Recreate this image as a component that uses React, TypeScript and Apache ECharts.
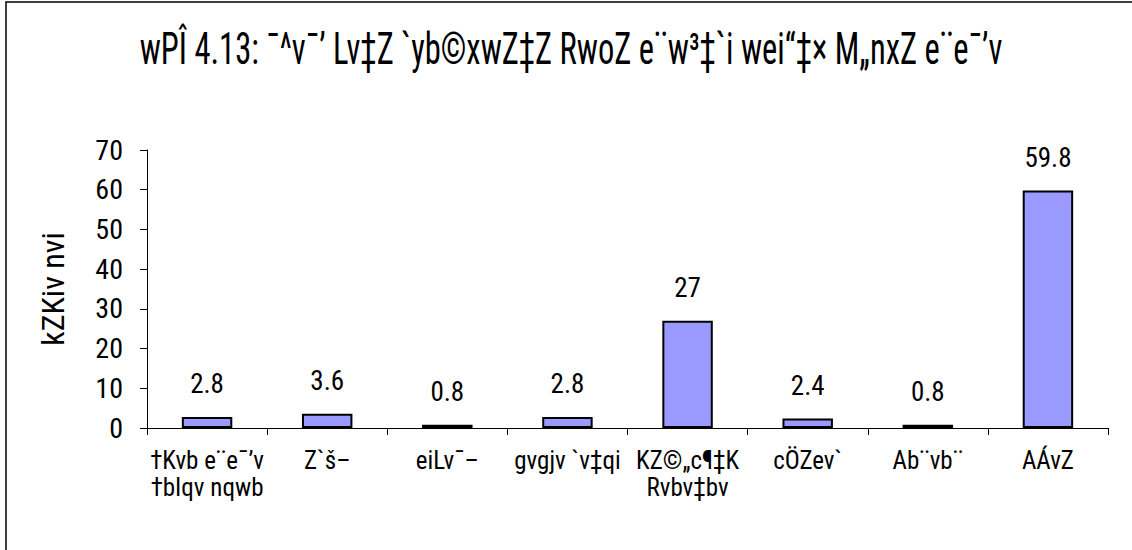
import React, { useEffect, useRef } from "react";
import * as echarts from "echarts";

const titleText = "wPÎ 4.13: ¯^v¯’ Lv‡Z `yb©xwZ‡Z RwoZ e¨w³‡`i wei“‡× M„nxZ e¨e¯’v";
const yAxisName = "kZKiv nvi";
const categories = [
  "†Kvb e¨e¯’v\n†bIqv nqwb",
  "Z`š–",
  "eiLv¯–",
  "gvgjv `v‡qi",
  "KZ©„c¶‡K\nRvbv‡bv",
  "cÖZev`",
  "Ab¨vb¨",
  "AÁvZ",
];
const values = [2.8, 3.6, 0.8, 2.8, 27, 2.4, 0.8, 59.8];
const yTicks = [0, 10, 20, 30, 40, 50, 60, 70];

const FONT = "'Liberation Sans Narrow', 'Roboto Condensed', 'DejaVu Sans Condensed', 'Liberation Sans', sans-serif";

export default function App() {
  const ref = useRef<HTMLDivElement>(null);
  useEffect(() => {
    document.body.style.margin = "0";
    const chart = echarts.init(ref.current!, null, { renderer: "svg" });
    chart.setOption({
      animation: false,
      backgroundColor: "#ffffff",
      textStyle: { fontFamily: FONT, color: "#000" },
      graphic: [
        {
          type: "rect",
          shape: { x: 6, y: 2, width: 1400, height: 800 },
          style: { fill: "none", stroke: "#000", lineWidth: 1.5 },
          silent: true,
          z: -1,
        },
        {
          type: "text",
          x: 571,
          y: 49,
          scaleX: 0.74,
          style: {
            text: titleText,
            fontSize: 44,
            fontFamily: FONT,
            fill: "#000",
            align: "center",
            verticalAlign: "middle",
          },
        },
      ],
      grid: { left: 147, right: 24, top: 150, bottom: 122, containLabel: false },
      xAxis: {
        type: "category",
        data: categories,
        boundaryGap: true,
        axisLine: { lineStyle: { color: "#000", width: 1 } },
        axisTick: { show: true, length: 7, lineStyle: { color: "#000" } },
        axisLabel: {
          interval: 0,
          margin: 19,
          fontSize: 25,
          lineHeight: 27,
          color: "#000",
          fontFamily: FONT,
        },
      },
      yAxis: {
        type: "value",
        min: yTicks[0],
        max: yTicks[yTicks.length - 1],
        interval: 10,
        name: yAxisName,
        nameLocation: "middle",
        nameGap: 78,
        nameRotate: 90,
        nameTextStyle: { fontSize: 32, color: "#000", fontFamily: FONT },
        axisLine: { show: true, lineStyle: { color: "#000", width: 1 } },
        axisTick: { show: true, length: 7, lineStyle: { color: "#000" } },
        splitLine: { show: false },
        axisLabel: { margin: 24, fontSize: 28, color: "#000", fontFamily: FONT },
      },
      series: [
        {
          type: "bar",
          data: values,
          barWidth: "42%",
          itemStyle: { color: "#9999FF", borderColor: "#000", borderWidth: 2 },
          label: {
            show: true,
            position: "top",
            distance: 19,
            fontSize: 27,
            color: "#000",
            fontFamily: FONT,
          },
        },
      ],
    });
    return () => chart.dispose();
  }, []);
  return <div ref={ref} style={{ width: 1132, height: 550, position: "absolute", left: 0, top: 0 }} />;
}
